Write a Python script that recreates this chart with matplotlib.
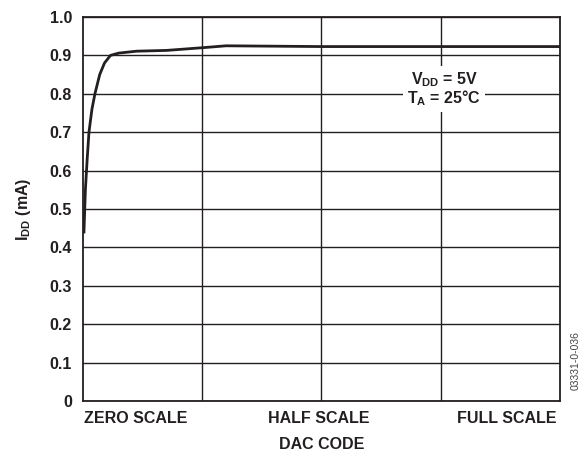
import matplotlib
matplotlib.use("Agg")
import matplotlib.pyplot as plt

plt.rcParams['font.family'] = 'Liberation Sans'
plt.rcParams['font.weight'] = 'bold'
plt.rcParams['mathtext.fontset'] = 'custom'
plt.rcParams['mathtext.rm'] = 'Liberation Sans:bold'
plt.rcParams['mathtext.it'] = 'Liberation Sans:bold'
plt.rcParams['mathtext.bf'] = 'Liberation Sans:bold'

# === Daten (DAC code in quarters of full scale, IDD in mA) ===
dac_code = [0.008, 0.02, 0.035, 0.05, 0.075, 0.10, 0.14, 0.18, 0.23, 0.30, 0.45,
            0.70, 1.00, 1.20, 1.60, 2.00, 3.00, 4.00]
idd_ma = [0.44, 0.55, 0.63, 0.70, 0.76, 0.80, 0.85, 0.88, 0.90, 0.906, 0.911,
          0.913, 0.920, 0.925, 0.924, 0.923, 0.923, 0.923]
y_ticks = [0, 0.1, 0.2, 0.3, 0.4, 0.5, 0.6, 0.7, 0.8, 0.9, 1.0]
y_labels = ['0', '0.1', '0.2', '0.3', '0.4', '0.5', '0.6', '0.7', '0.8', '0.9', '1.0']

ink = '#231f20'
fs = 11.5

fig = plt.figure(figsize=(5.87, 4.51), dpi=100)
ax = fig.add_axes([0.1414, 0.1109, 0.8126, 0.8514])

ax.plot(dac_code, idd_ma, color=ink, lw=2.0, zorder=3)

ax.set_xlim(0, 4)
ax.set_ylim(0, 1.0)
ax.set_yticks(y_ticks)
ax.set_yticklabels(y_labels)
ax.set_xticks([1, 2, 3])
ax.set_xticklabels([])
ax.tick_params(length=0, labelsize=fs, colors=ink, pad=8)
ax.grid(True, color=ink, lw=1.0)
for s in ax.spines.values():
    s.set_color(ink)
    s.set_linewidth(1.3)

# === x-Achsenbeschriftung ===
ax.text(0.003, -0.027, 'ZERO SCALE', transform=ax.transAxes, ha='left', va='top',
        fontsize=fs, color=ink)
ax.text(0.494, -0.027, 'HALF SCALE', transform=ax.transAxes, ha='center', va='top',
        fontsize=fs, color=ink)
ax.text(0.993, -0.027, 'FULL SCALE', transform=ax.transAxes, ha='right', va='top',
        fontsize=fs, color=ink)
ax.set_xlabel('DAC CODE', fontsize=fs, fontweight='bold', color=ink, labelpad=18)
ax.set_ylabel(r'I$_\mathrm{DD}$ (mA)', fontsize=fs, fontweight='bold', color=ink, labelpad=12)

ax.text(3.03, 0.812, 'V$_\\mathrm{DD}$ = 5V\nT$_\\mathrm{A}$ = 25°C', ha='center', va='center',
        fontsize=fs, color=ink, linespacing=0.95,
        bbox=dict(facecolor='white', edgecolor='none', pad=3), zorder=4)

fig.text(0.98, 0.2, '03331-0-036', rotation=90, fontsize=7.5, color='#444444',
         fontweight='normal', ha='center', va='center')

plt.savefig('out.png', dpi=100)
